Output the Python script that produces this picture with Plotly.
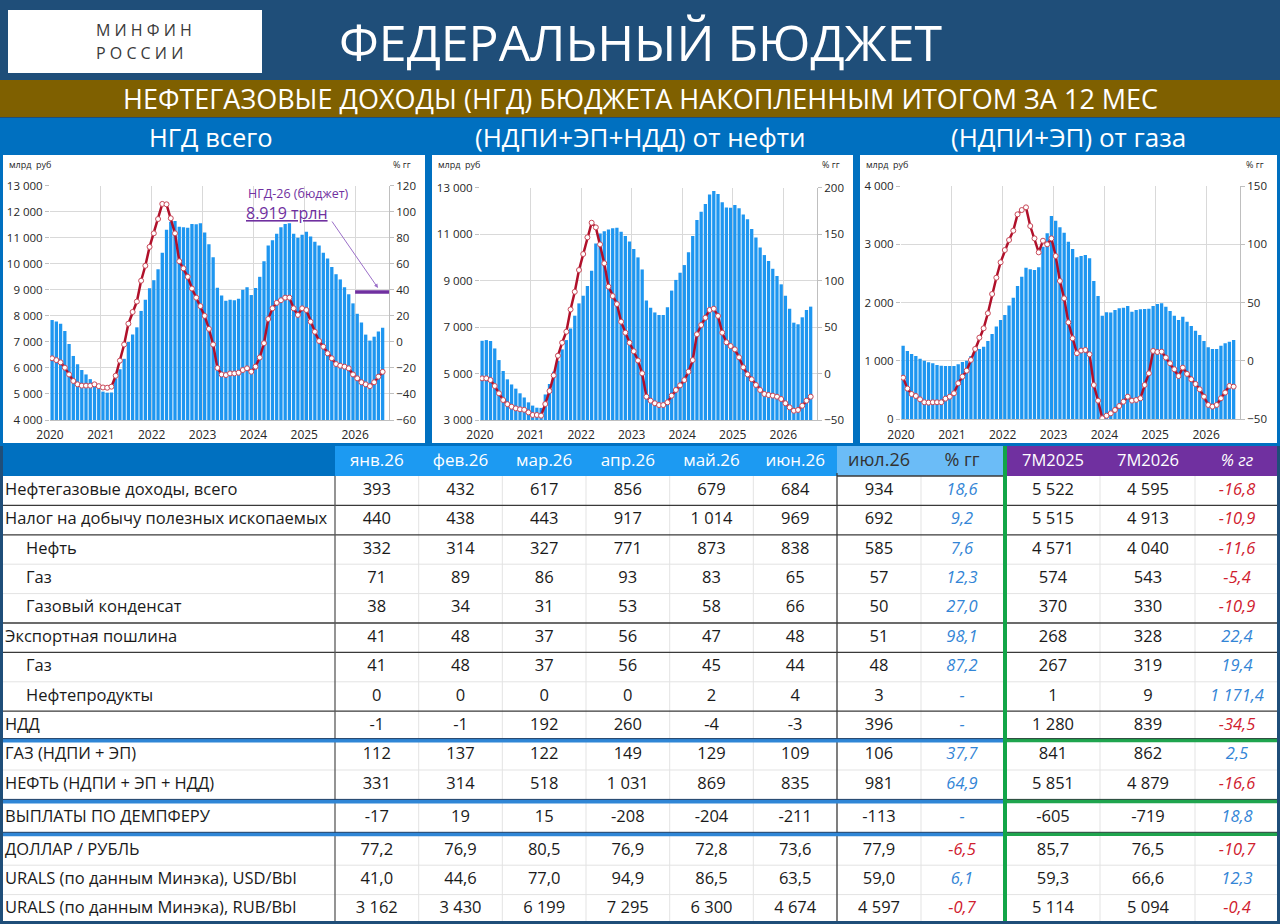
import plotly.graph_objects as go

W, H = 1280, 924
FONT = "Open Sans"
TFONT = "Open Sans"

# ---------------- chart data (Jan 2020 ... Jul 2026, monthly, 12m rolling) ----------------
years = ["2020", "2021", "2022", "2023", "2024", "2025", "2026"]
months = list(range(79))

ngd_total = [7840, 7780, 7700, 7420, 6920, 6460, 6140, 5920, 5750, 5570, 5400, 5220,
             5090, 5050, 5060, 5600, 5950, 6350, 7000, 7280, 7560, 8190, 8620, 9060,
             9370, 9790, 10420, 11310, 11620, 11640, 11420, 11400, 11380, 11530, 11520, 11560,
             11200, 10750, 10250, 9080, 8780, 8580, 8620, 8600, 8660, 9000, 9100, 8800,
             9070, 9500, 10100, 10700, 10900, 11150, 11400, 11530, 11560, 11150, 11000, 11120,
             11230, 11050, 10850, 10700, 10420, 10200, 9880, 9600, 9400, 9100, 8830, 8480,
             8080, 7750, 7280, 7050, 7200, 7400, 7540]
ngd_total_yoy = [-12.6, -14, -15.7, -19.8, -25, -30, -32.6, -33.6, -33.6, -33.6, -32.6, -34,
                 -35, -35.2, -34.4, -26, -14.4, -2, 14, 23, 31, 47, 58.5, 73,
                 83.4, 94.4, 106, 105.7, 95, 83.4, 62, 56.5, 50, 41, 34, 27.5,
                 20, 10, -2, -20, -25, -25.5, -24.2, -24.2, -23.7, -21.6, -20.3, -22.9,
                 -19, -12, -1, 17.6, 25.8, 30, 32, 34, 34, 25.8, 20.7, 25.8,
                 24.5, 15.5, 7.8, 0.7, -3.7, -8.8, -12.6, -17, -18.3, -19, -20.3, -25,
                 -28, -31, -32.6, -34, -31, -26.7, -23]
ngd_budget_2026 = 8919

oil_total = [6410, 6440, 6400, 6080, 5580, 5110, 4750, 4530, 4350, 4150, 3970, 3760,
             3620, 3530, 3520, 4100, 4550, 5080, 5550, 6040, 6440, 6940, 7490, 8020,
             8350, 8770, 9430, 10600, 11030, 11130, 11200, 11250, 11280, 11100, 10920, 10680,
             10360, 10000, 9480, 8140, 7830, 7630, 7520, 7520, 7850, 8570, 9030, 9340,
             9670, 10220, 10920, 11610, 11970, 12300, 12710, 12860, 12730, 12370, 12150, 12140,
             12250, 12110, 11850, 11640, 11220, 10860, 10430, 10100, 9840, 9510, 9200, 8840,
             8350, 7790, 7190, 7120, 7420, 7730, 7880]
oil_total_yoy = [-5.2, -5.2, -7, -13.4, -21.3, -28.5, -33, -35.7, -37.5, -38.5, -39, -41.8,
                 -44.6, -44.6, -45.3, -32.8, -18.8, -2, 19.2, 33.2, 45, 69, 88, 111.4,
                 128.6, 146.6, 162.3, 157.3, 139, 118.6, 93.5, 83.4, 74.8, 55.8, 44, 33.2,
                 24, 14, 0.2, -24.9, -29.2, -32, -33.9, -33.9, -31, -23.8, -17.7, -12.7,
                 -7, 2, 14.5, 42.2, 52.2, 60, 68.4, 69.8, 62, 44, 33.6, 29.6,
                 26, 17.4, 6.7, -0.9, -6.2, -12.3, -17.7, -22, -23.1, -23.8, -24.9, -27.4,
                 -32, -36.4, -40, -39.2, -34.6, -29.2, -24.9]

gas_total = [1263, 1171, 1120, 1086, 1040, 1006, 977, 960, 931, 920, 914, 914,
             914, 943, 983, 1006, 1086, 1166, 1206, 1246, 1343, 1463, 1589, 1703,
             1789, 1949, 2086, 2286, 2446, 2600, 2571, 2560, 2606, 2960, 3189, 3486,
             3406, 3291, 3200, 3046, 2920, 2777, 2800, 2817, 2760, 2371, 2114, 1777,
             1834, 1829, 1874, 1903, 1914, 1943, 1846, 1874, 1886, 1891, 1897, 1943,
             1977, 1989, 1931, 1857, 1777, 1703, 1760, 1674, 1600, 1520, 1446, 1343,
             1234, 1206, 1206, 1263, 1303, 1331, 1360]
gas_total_yoy = [-14.3, -23.7, -28.3, -30, -32.9, -35.4, -35.7, -35.4, -35.4, -35.4, -32.3, -30.6,
                 -27.7, -19.1, -13.4, -8.3, 0.9, 10.3, 20, 28, 40.9, 57.4, 71.4, 84.6,
                 95.1, 103.7, 111.7, 125.7, 129.4, 131.7, 115.7, 105.1, 93.1, 103.1, 100, 105.1,
                 90, 68.6, 53.7, 33.1, 19.4, 6.6, 8.9, 9.4, 5.7, -20.6, -34, -49.1,
                 -46.9, -44.9, -42, -38.6, -34.9, -30.6, -34, -33.4, -32, -20.6, -10.6, 8.6,
                 7.7, 8, 2.9, -2, -7.1, -12.9, -5.7, -11.1, -15.7, -19.7, -24.3, -30.6,
                 -37.7, -39.1, -37.7, -32, -27.1, -21.4, -22]

# ---------------- table data ----------------
row_labels = ["Нефтегазовые доходы, всего", "Налог на добычу полезных ископаемых",
              "Нефть", "Газ", "Газовый конденсат", "Экспортная пошлина", "Газ",
              "Нефтепродукты", "НДД", "ГАЗ (НДПИ + ЭП)", "НЕФТЬ (НДПИ + ЭП + НДД)",
              "ВЫПЛАТЫ ПО ДЕМПФЕРУ", "ДОЛЛАР / РУБЛЬ",
              "URALS (по данным Минэка), USD/Bbl", "URALS (по данным Минэка), RUB/Bbl"]
row_indent = [0, 0, 1, 1, 1, 0, 1, 1, 0, 0, 0, 0, 0, 0, 0]
row_decimals = [0, 0, 0, 0, 0, 0, 0, 0, 0, 0, 0, 0, 1, 1, 0]

month_headers = ["янв.26", "фев.26", "мар.26", "апр.26", "май.26", "июн.26"]
jan26 = [393, 440, 332, 71, 38, 41, 41, 0, -1, 112, 331, -17, 77.2, 41.0, 3162]
feb26 = [432, 438, 314, 89, 34, 48, 48, 0, -1, 137, 314, 19, 76.9, 44.6, 3430]
mar26 = [617, 443, 327, 86, 31, 37, 37, 0, 192, 122, 518, 15, 80.5, 77.0, 6199]
apr26 = [856, 917, 771, 93, 53, 56, 56, 0, 260, 149, 1031, -208, 76.9, 94.9, 7295]
may26 = [679, 1014, 873, 83, 58, 47, 45, 2, -4, 129, 869, -204, 72.8, 86.5, 6300]
jun26 = [684, 969, 838, 65, 66, 48, 44, 4, -3, 109, 835, -211, 73.6, 63.5, 4674]
jul26 = [934, 692, 585, 57, 50, 51, 48, 3, 396, 106, 981, -113, 77.9, 59.0, 4597]
jul_yoy = [18.6, 9.2, 7.6, 12.3, 27.0, 98.1, 87.2, None, None, 37.7, 64.9, None, -6.5, 6.1, -0.7]
m7_2025 = [5522, 5515, 4571, 574, 370, 268, 267, 1, 1280, 841, 5851, -605, 85.7, 59.3, 5114]
m7_2026 = [4595, 4913, 4040, 543, 330, 328, 319, 9, 839, 862, 4879, -719, 76.5, 66.6, 5094]
m7_yoy = [-16.8, -10.9, -11.6, -5.4, -10.9, 22.4, 19.4, 1171.4, -34.5, 2.5, -16.6, 18.8, -10.7, 12.3, -0.4]


def px(x):
    return x / W


def py(y):
    return 1 - y / H


def fmt(v, dec):
    if v is None:
        return "-"
    s = f"{abs(v):,.{dec}f}".replace(",", " ").replace(".", ",")
    return "-" + s if v < 0 else s


BAR = "#1E96F0"
LINE = "#B0102A"
GRID = "#D9D9D9"
AX = "#BFBFBF"
PURPLE = "#7030A0"
BLUE_TXT = "#3385D6"
RED_TXT = "#D0202E"

fig = go.Figure()

# chart plot areas (px): left, right, top, bottom
areas = [(50, 389, 185.7, 420), (480, 817, 187.7, 420), (901, 1240, 186, 419.3)]
left_ranges = [(4000, 13000, 1000), (3000, 13000, 2000), (0, 4000, 1000)]
right_ranges = [(-60, 120, 20), (-50, 200, 50), (-50, 150, 50)]
series = [(ngd_total, ngd_total_yoy), (oil_total, oil_total_yoy), (gas_total, gas_total_yoy)]

layout_axes = {}
for k in range(3):
    xa = "x" if k == 0 else f"x{k + 1}"
    yl = "y" if k == 0 else f"y{2 * k + 1}"
    yr = f"y{2 * k + 2}"
    bars, yoy = series[k]
    fig.add_trace(go.Bar(x=months, y=bars, marker=dict(color=BAR, line_width=0),
                         xaxis=xa, yaxis=yl, hoverinfo="skip"))
    fig.add_trace(go.Scatter(x=months, y=yoy, mode="lines+markers",
                             line=dict(color=LINE, width=2.5),
                             marker=dict(size=5, color="white", line=dict(color="#C84858", width=1)),
                             xaxis=xa, yaxis=yr, hoverinfo="skip"))
    x0, x1, yt, yb = areas[k]
    tick = dict(size=11.5, color="#262626", family=FONT)
    layout_axes["xaxis" if k == 0 else f"xaxis{k + 1}"] = dict(
        domain=[px(x0), px(x1)], range=[-0.5, len(months) + 0.5], anchor=yl,
        tickmode="array", tickvals=[12 * i - 0.5 for i in range(len(years))], ticktext=years,
        showgrid=True, gridcolor=GRID, zeroline=False, showline=True, linecolor=AX,
        ticks="", tickfont=dict(size=12, color="#262626", family=FONT),
        ticklabelstandoff=4, automargin=False)
    lo, hi, dt = left_ranges[k]
    layout_axes["yaxis" if k == 0 else f"yaxis{2 * k + 1}"] = dict(
        domain=[py(yb), py(yt)], range=[lo, hi], dtick=dt, tick0=lo, anchor=xa,
        tickformat=",d", showgrid=True, gridcolor=GRID, zeroline=False,
        ticks="outside", ticklen=4, tickcolor=AX, tickfont=tick, automargin=False)
    lo, hi, dt = right_ranges[k]
    layout_axes[f"yaxis{2 * k + 2}"] = dict(
        overlaying=yl, side="right", anchor=xa, range=[lo, hi], dtick=dt, tick0=lo,
        showgrid=False, zeroline=False, showline=True, linecolor=AX,
        ticks="outside", ticklen=4, tickcolor=AX, tickfont=tick, automargin=False)

# budget 2026 level on first chart
fig.add_trace(go.Scatter(x=[months[72] - 0.5, len(months) + 0.5], y=[ngd_budget_2026] * 2,
                         mode="lines", line=dict(color=PURPLE, width=3.5),
                         xaxis="x", yaxis="y", hoverinfo="skip"))

# ---------------- table ----------------
row_h = 29.4
gaps = {10: 4, 11: 3}
centers, bounds = [], []
yy = 476
for r in range(len(row_labels)):
    centers.append(yy + row_h / 2)
    yy += row_h
    bounds.append(yy)
    yy += gaps.get(r, 0)

col_x = [376.8, 460.5, 544.2, 627.8, 711.5, 795.2, 879, 962, 1053, 1148, 1237]
plain_cols = [jan26, feb26, mar26, apr26, may26, jun26, jul26, None, m7_2025, m7_2026, None]

tx, ty, tt = [], [], []
for c, col in enumerate(plain_cols):
    if col is None:
        continue
    for r, v in enumerate(col):
        tx.append(col_x[c]); ty.append(centers[r]); tt.append(fmt(v, row_decimals[r]))
fig.add_trace(go.Scatter(x=tx, y=ty, text=tt, mode="text", textposition="middle center",
                         textfont=dict(family=FONT, size=16.5, color="#1A1A1A"),
                         xaxis="x4", yaxis="y7", hoverinfo="skip", cliponaxis=False))

ix, iy, it, ic = [], [], [], []
for c, col in ((7, jul_yoy), (10, m7_yoy)):
    for r, v in enumerate(col):
        ix.append(col_x[c]); iy.append(centers[r]); it.append(fmt(v, 1))
        ic.append(RED_TXT if (v is not None and v < 0) else BLUE_TXT)
fig.add_trace(go.Scatter(x=ix, y=iy, text=it, mode="text", textposition="middle center",
                         textfont=dict(family=FONT, size=16.5, color=ic, style="italic"),
                         xaxis="x4", yaxis="y7", hoverinfo="skip", cliponaxis=False))

fig.add_trace(go.Scatter(x=[5 + 21 * i for i in row_indent], y=centers, text=row_labels,
                         mode="text", textposition="middle right",
                         textfont=dict(family=FONT, size=16.5, color="#1A1A1A"),
                         xaxis="x4", yaxis="y7", hoverinfo="skip", cliponaxis=False))

hdr_y = 461.5
fig.add_trace(go.Scatter(x=col_x[:6], y=[hdr_y] * 6, text=month_headers, mode="text",
                         textfont=dict(family=FONT, size=17, color="white"),
                         xaxis="x4", yaxis="y7", hoverinfo="skip", cliponaxis=False))
fig.add_trace(go.Scatter(x=col_x[6:8], y=[hdr_y] * 2, text=["июл.26", "% гг"], mode="text",
                         textfont=dict(family=FONT, size=18, color="#333333"),
                         xaxis="x4", yaxis="y7", hoverinfo="skip", cliponaxis=False))
fig.add_trace(go.Scatter(x=col_x[8:], y=[hdr_y] * 3, text=["7М2025", "7М2026", "% гг"], mode="text",
                         textfont=dict(family=FONT, size=16.5, color="white",
                                       style=["normal", "normal", "italic"]),
                         xaxis="x4", yaxis="y7", hoverinfo="skip", cliponaxis=False))

layout_axes["xaxis4"] = dict(domain=[0, 1], range=[0, W], visible=False, anchor="y7",
                             automargin=False)
layout_axes["yaxis7"] = dict(domain=[0, py(445)], range=[H, 445], visible=False, anchor="x4",
                             automargin=False)

# ---------------- frames, bands, lines ----------------
shapes = []


def rect(x0, y0, x1, y1, color, layer="below"):
    shapes.append(dict(type="rect", xref="paper", yref="paper", x0=px(x0), x1=px(x1),
                       y0=py(y1), y1=py(y0), fillcolor=color, line_width=0, layer=layer))


def hline(x0, x1, y, color, width, layer="above"):
    shapes.append(dict(type="line", xref="paper", yref="paper", x0=px(x0), x1=px(x1),
                       y0=py(y), y1=py(y), line=dict(color=color, width=width), layer=layer))


def vline(x, y0, y1, color, width, layer="above"):
    shapes.append(dict(type="line", xref="paper", yref="paper", x0=px(x), x1=px(x),
                       y0=py(y0), y1=py(y1), line=dict(color=color, width=width), layer=layer))


rect(8, 10, 262, 73, "white")
rect(0, 80, W, 117, "#7F6000")
rect(0, 118, W, 446, "#0070C0")
rect(3, 155, 425, 443, "white")
rect(432, 155, 853, 443, "white")
rect(860, 155, 1277, 443, "white")
rect(3, 446, 1277, 921, "white")
rect(3, 446, 335, 476, "#0070C0")
rect(335, 446, 837, 476, "#1C9AF2")
rect(837, 446, 1003, 476, "#6BBCF7")
rect(1007, 446, 1277, 476, "#7030A0")

# light grid of the table
for x in [418.7, 502.3, 586, 669.7, 753.3, 921, 1100, 1195]:
    vline(x, 476, 921, "#E3E3E3", 1, "below")
for r in [2, 3, 6, 9, 12, 13]:
    hline(3, 1277, bounds[r], "#E3E3E3", 1, "below")
# dark rules
for r in [0, 1, 4, 5, 7]:
    hline(3, 1277, bounds[r], "#3A3A3A", 1.3)
vline(335, 476, 921, "#5A5A5A", 1.3)
vline(837, 473, 921, "#3A3A3A", 1.3)
hline(837, 1003, 476, "#3A3A3A", 1.3)
# group separators
for y in [bounds[8], bounds[10] + gaps[10] / 2, bounds[11] + gaps[11] / 2]:
    hline(3, 1003, y, "#2F86D6", 4)
    hline(3, 1003, y - 2, "#1F3F66", 1)
    hline(1007, 1277, y, "#1FA54E", 3.5)
    hline(1007, 1277, y - 2, "#1F3F33", 1)
rect(1003, 446, 1007, 921, "#12A548", "above")

annotations = []


def note(x, y, text, size, color="white", xanchor="center", family=TFONT, **kw):
    annotations.append(dict(x=px(x), y=py(y), xref="paper", yref="paper", text=text,
                            showarrow=False, xanchor=xanchor, yanchor="middle",
                            font=dict(size=size, color=color, family=family), **kw))


note(640, 42, "ФЕДЕРАЛЬНЫЙ БЮДЖЕТ", 50)
note(640, 99, "НЕФТЕГАЗОВЫЕ ДОХОДЫ (НГД) БЮДЖЕТА НАКОПЛЕННЫМ ИТОГОМ ЗА 12 МЕС", 27)
note(211, 137, "НГД всего", 25.5)
note(640, 137, "(НДПИ+ЭП+НДД) от нефти", 26)
note(1068, 137, "(НДПИ+ЭП) от газа", 26)
note(94, 30, "М И Н Ф И Н", 16, "#3A3A3A", "left")
note(94, 53, "Р О С С И И", 16, "#3A3A3A", "left")
for x_l, x_r in [(7, 413), (436, 842), (864, 1266)]:
    note(x_l, 164, "млрд  руб", 9, "#262626", "left", FONT)
    note(x_r, 164, "% гг", 9, "#262626", "right", FONT)
note(298, 193, "НГД-26 (бюджет)", 12.5, PURPLE, family=FONT)
note(287, 213, "<u>8.919 трлн</u>", 16, PURPLE, family=FONT)
annotations.append(dict(x=px(378), y=py(288), xref="paper", yref="paper", ax=-47, ay=-68,
                        axref="pixel", ayref="pixel", showarrow=True, arrowhead=2,
                        arrowsize=0.8, arrowwidth=1, arrowcolor="#9B6FC8", text=""))

fig.update_layout(
    width=W, height=H, margin=dict(l=0, r=0, t=0, b=0, pad=0, autoexpand=False),
    paper_bgcolor="#1F4E79", plot_bgcolor="rgba(0,0,0,0)",
    showlegend=False, bargap=0.22, separators=", ",
    shapes=shapes, annotations=annotations, font=dict(family=FONT),
    **layout_axes)

fig.write_html("out.html", config={"displayModeBar": False},
               post_script="document.body.style.margin='0';document.body.style.overflow='hidden';")
